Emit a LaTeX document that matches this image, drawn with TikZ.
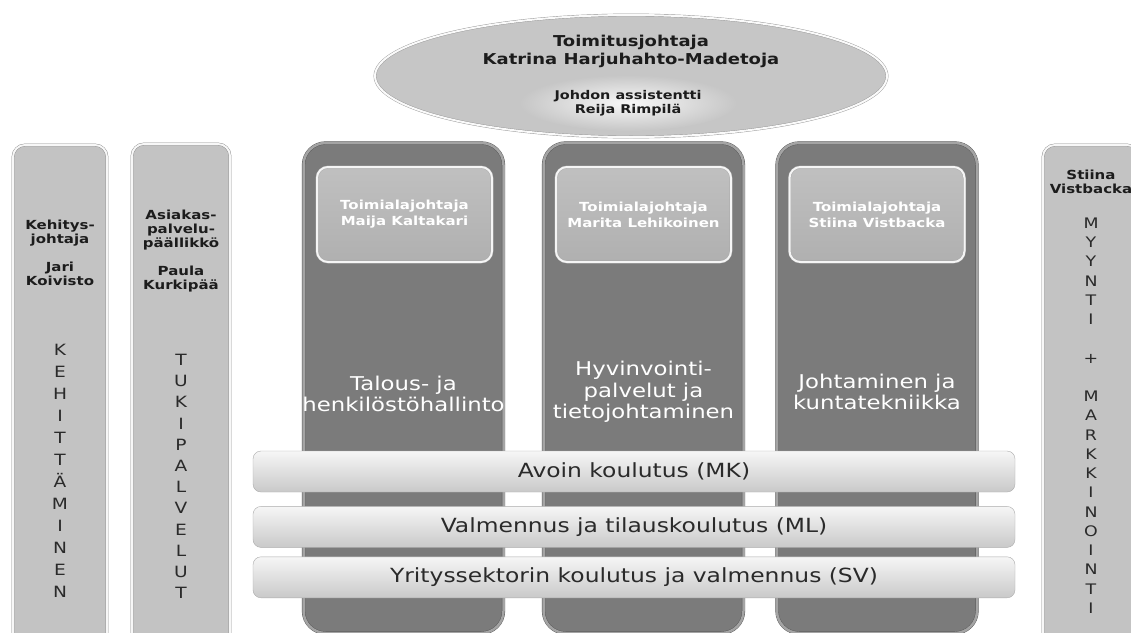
\documentclass[tikz,border=0pt]{standalone}
\usepackage{fontspec}
\setmainfont{DejaVu Sans}[FakeStretch=1.2]
\usetikzlibrary{shapes.geometric,shadings,positioning}

\definecolor{sidegray}{HTML}{C3C3C3}
\definecolor{colgray}{HTML}{7B7B7B}
\definecolor{colrim}{HTML}{A4A4A4}
\definecolor{capgray}{HTML}{B0B0B0}
\definecolor{bartop}{HTML}{F6F6F6}
\definecolor{barbot}{HTML}{C9C9C9}
\definecolor{ovalgray}{HTML}{C6C6C6}
\definecolor{inktext}{HTML}{1C1C1C}
\definecolor{lettertext}{HTML}{2A2A2A}

\begin{document}
\begin{tikzpicture}[x=1pt, y=-1pt,
    oval/.style={ellipse, minimum width=512pt, minimum height=122pt, fill=ovalgray,
        draw=ovalgray!75!black, double=white!96!gray, double distance=2pt},
    boss/.style={align=center, text=inktext, font=\bfseries\fontsize{15}{18}\selectfont},
    assist/.style={ellipse, minimum width=165pt, minimum height=56pt, inner color=white!88!ovalgray,
        outer color=ovalgray, align=center, text=inktext, font=\bfseries\fontsize{12}{14}\selectfont},
    sidebox/.style={rectangle, rounded corners=12pt, minimum height=505pt, fill=sidegray,
        draw=sidegray!70!black, double=white!94!gray, double distance=2pt},
    sidehead/.style={align=center, text=inktext, font=\bfseries\fontsize{12.5}{14}\selectfont},
    letters/.style={align=center, text=lettertext, font=\fontsize{15.5}{22}\selectfont},
    column/.style={rectangle, rounded corners=22pt, minimum width=200pt, minimum height=490pt,
        fill=colgray, draw=colgray!70!black, double=colrim, double distance=2.5pt},
    capbox/.style={rectangle, rounded corners=11pt, minimum width=175pt, minimum height=95pt,
        top color=capgray!80!white, bottom color=capgray, draw=gray!70,
        double=white!92!gray, double distance=2pt, align=center, text=white,
        font=\bfseries\fontsize{12.5}{16}\selectfont},
    coltext/.style={align=center, text=white, font=\fontsize{19}{21.5}\selectfont},
    bar/.style={rectangle, rounded corners=8pt, minimum width=762pt, minimum height=41pt,
        top color=bartop, bottom color=barbot, draw=barbot!85!black, text=lettertext,
        font=\fontsize{19.5}{21}\selectfont}]
    \clip (0,0) rectangle (1131,632);
    \fill[white] (0,0) rectangle (1131,632);

    % Top management
    \node[oval] (ceo) at (631,76) {};
    \node[boss] (ceoname) at (631,51) {Toimitusjohtaja\\Katrina Harjuhahto-Madetoja};
    \node[assist] (assistant) at (628,103) {Johdon assistentti\\Reija Rimpilä};

    % Side pillars
    \node[sidebox, minimum width=94pt] (kehitys) at (60,397.5) {};
    \node[sidehead] (kehityshead) at (60,253) {Kehitys-\\johtaja\\[14pt]Jari\\Koivisto};
    \node[letters] (kehitysword) at (60,471) {K\\E\\H\\I\\T\\T\\Ä\\M\\I\\N\\E\\N};

    \node[sidebox, minimum width=98pt] (tuki) at (181,396.5) {};
    \node[sidehead] (tukihead) at (181,251) {Asiakas-\\palvelu-\\päällikkö\\[14pt]Paula\\Kurkipää};
    \node[letters, font=\fontsize{15.5}{21.2}\selectfont] (tukiword) at (181,476.5) {T\\U\\K\\I\\P\\A\\L\\V\\E\\L\\U\\T};

    \node[sidebox, minimum width=96pt] (myynti) at (1091,397.5) {};
    \node[sidehead] (myyntihead) at (1091,182) {Stiina\\Vistbacka};
    \node[letters, font=\fontsize{14.5}{19.25}\selectfont] (myyntiword) at (1091,415.5)
        {M\\Y\\Y\\N\\T\\I\\[19.25pt]+\\[19.25pt]M\\A\\R\\K\\K\\I\\N\\O\\I\\N\\T\\I};

    % Business units
    \node[column] (talous) at (403.5,388) {};
    \node[capbox] (talouscap) at (404.5,214.5) {Toimialajohtaja\\Maija Kaltakari};
    \node[coltext] (talousname) at (403.5,394) {Talous- ja\\henkilöstöhallinto};

    \node[column] (hyvinvointi) at (643.5,388) {};
    \node[capbox] (hyvinvointicap) at (643.5,214.5) {Toimialajohtaja\\Marita Lehikoinen};
    \node[coltext] (hyvinvointiname) at (643.5,392) {Hyvinvointi-\\palvelut ja\\tietojohtaminen};

    \node[column] (johtaminen) at (877,388) {};
    \node[capbox] (johtaminencap) at (877,214.5) {Toimialajohtaja\\Stiina Vistbacka};
    \node[coltext] (johtaminenname) at (877,392) {Johtaminen ja\\kuntatekniikka};

    % Training bars
    \node[bar] (avoin) at (634,471.5) {Avoin koulutus (MK)};
    \node[bar, below=14pt of avoin] (valmennus) {Valmennus ja tilauskoulutus (ML)};
    \node[bar, below=9pt of valmennus] (yritys) {Yrityssektorin koulutus ja valmennus (SV)};
\end{tikzpicture}
\end{document}
